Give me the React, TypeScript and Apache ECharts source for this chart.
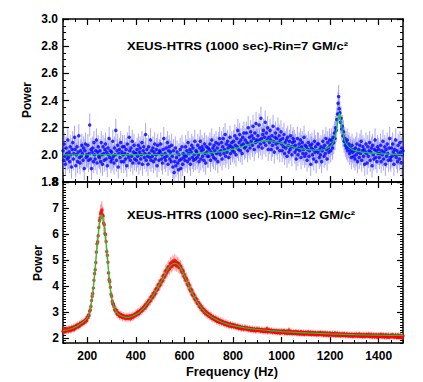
import React, { useEffect, useRef } from 'react';
import * as echarts from 'echarts';

// Frequency bins of the power spectrum (Hz)
const FREQ_START = 100;
const FREQ_STEP = 2.5;

// Top panel: Rin = 7 GM/c^2 (measured power per bin)
const topPower = [
  2.03, 1.96, 2.08, 1.99, 1.93, 2.05, 2.01, 1.97, 2.11, 1.98, 2.02, 1.95, 2.06, 2.0, 1.91, 2.04, 2.09, 1.97, 2.01, 2.13,
  2.04, 1.92, 2.0, 2.06, 1.95, 2.02, 2.14, 1.98, 1.94, 2.03, 1.99, 2.07, 2.01, 1.96, 2.05, 1.9, 2.03, 2.08, 1.98, 2.0,
  1.99, 2.07, 1.96, 2.01, 2.22, 1.97, 2.04, 1.9, 2.02, 2.05, 1.95, 2.09, 2.0, 1.97, 2.03, 2.11, 1.94, 2.02, 2.06, 1.99,
  1.98, 2.03, 1.95, 2.09, 2.0, 1.93, 2.06, 2.01, 1.96, 2.04, 2.08, 1.97, 2.02, 1.92, 2.05, 2.0, 2.12, 1.98, 2.03, 1.95,
  2.02, 1.97, 2.1, 1.99, 1.94, 2.05, 2.0, 2.18, 1.96, 2.03, 2.07, 1.91, 2.01, 2.04, 1.98, 2.09, 1.95, 2.02, 2.06, 2.0,
  1.95, 2.06, 2.01, 1.97, 2.04, 1.92, 2.08, 2.0, 1.98, 2.13, 2.03, 1.96, 2.05, 1.99, 2.1, 1.94, 2.02, 2.07, 1.97, 2.01,
  2.01, 1.96, 2.04, 1.99, 2.07, 1.94, 2.02, 2.05, 1.97, 2.0, 2.09, 1.93, 2.03, 2.06, 1.98, 2.01, 2.15, 1.96, 2.04, 1.99,
  1.93, 2.06, 2.01, 1.98, 2.11, 1.96, 2.03, 1.99, 2.05, 1.95, 2.02, 2.08, 1.97, 2.0, 2.04, 1.92, 2.07, 2.01, 1.96, 2.03,
  2.02, 2.08, 1.97, 2.0, 1.94, 2.04, 2.12, 1.98, 2.01, 1.96, 2.05, 1.99, 2.09, 1.93, 2.03, 2.06, 1.97, 2.02, 1.95, 2.07,
  1.99, 1.91, 2.03, 1.87, 1.95, 2.05, 1.92, 1.98, 2.02, 1.94, 1.89, 2.0, 1.96, 2.04, 1.9, 1.97, 2.06, 1.93, 2.01, 1.98,
  2.0, 1.96, 2.06, 1.99, 2.03, 1.95, 2.09, 2.01, 1.97, 2.04, 1.93, 2.02, 2.07, 1.98, 2.05, 1.96, 2.0, 2.1, 1.97, 2.03,
  2.02, 1.98, 2.07, 2.0, 1.95, 2.05, 2.1, 1.97, 2.03, 2.06, 1.99, 2.04, 1.96, 2.08, 2.01, 1.94, 2.06, 2.02, 1.99, 2.05,
  1.99, 2.04, 2.08, 1.96, 2.02, 2.11, 2.0, 2.05, 1.98, 2.07, 2.03, 1.97, 2.09, 2.01, 2.05, 1.95, 2.08, 2.02, 2.12, 2.0,
  2.03, 2.09, 1.97, 2.06, 2.12, 2.01, 2.04, 2.15, 1.99, 2.08, 2.02, 2.1, 2.05, 1.98, 2.07, 2.13, 2.01, 2.06, 2.09, 2.03,
  2.05, 2.1, 2.02, 2.14, 2.07, 2.0, 2.12, 2.06, 2.18, 2.04, 2.09, 2.15, 2.03, 2.11, 2.07, 2.01, 2.13, 2.08, 2.16, 2.05,
  2.11, 2.06, 2.16, 2.09, 2.03, 2.2, 2.08, 2.13, 2.05, 2.17, 2.1, 2.14, 2.07, 2.21, 2.12, 2.04, 2.16, 2.09, 2.23, 2.11,
  2.1, 2.14, 2.06, 2.22, 2.11, 2.08, 2.27, 2.12, 2.05, 2.15, 2.18, 2.09, 2.13, 2.24, 2.07, 2.16, 2.11, 2.2, 2.04, 2.13,
  2.09, 2.18, 2.11, 2.04, 2.14, 2.07, 2.21, 2.1, 2.02, 2.13, 2.16, 2.08, 2.12, 2.05, 2.19, 2.09, 2.14, 2.03, 2.11, 2.17,
  2.08, 2.03, 2.12, 2.06, 2.15, 2.01, 2.09, 2.05, 2.11, 1.99, 2.13, 2.07, 2.02, 2.1, 2.04, 2.14, 2.06, 2.0, 2.09, 2.12,
  2.06, 2.1, 2.02, 2.07, 1.97, 2.04, 2.12, 2.0, 2.05, 2.08, 2.03, 2.11, 1.98, 2.06, 2.09, 2.01, 2.04, 2.13, 1.99, 2.07,
  2.01, 2.06, 1.96, 2.04, 2.09, 1.99, 2.03, 2.07, 1.93, 2.05, 2.08, 2.0, 2.04, 1.97, 2.1, 2.02, 2.06, 1.95, 2.03, 2.08,
  2.02, 2.08, 1.98, 2.04, 2.0, 2.06, 1.95, 2.03, 2.1, 2.05, 1.99, 2.07, 2.01, 2.12, 2.04, 1.97, 2.09, 2.05, 2.02, 2.11,
  2.07, 2.03, 2.11, 2.08, 2.05, 2.13, 2.09, 2.16, 2.12, 2.2, 2.18, 2.26, 2.3, 2.38, 2.43, 2.34, 2.31, 2.24, 2.27, 2.19,
  2.21, 2.14, 2.17, 2.1, 2.12, 2.07, 2.09, 2.05, 2.11, 2.03, 2.06, 2.08, 2.01, 2.05, 2.03, 1.98, 2.07, 2.02, 2.04, 1.99,
  2.03, 1.97, 2.05, 2.0, 2.08, 1.95, 2.02, 2.04, 1.98, 2.07, 2.01, 2.1, 1.96, 2.03, 2.06, 1.99, 2.04, 1.93, 2.02, 2.08,
  2.01, 1.94, 2.06, 1.99, 2.03, 2.09, 1.96, 2.02, 2.05, 1.92, 2.07, 2.0, 1.97, 2.04, 2.11, 1.98, 2.03, 1.95, 2.06, 2.01,
  2.04, 1.98, 2.01, 2.07, 1.95, 2.03, 2.0, 2.1, 1.97, 2.02, 2.06, 1.93, 2.04, 1.99, 2.08, 2.01, 1.96, 2.05, 2.12, 1.98,
  1.96, 2.05, 1.99, 2.08, 2.02, 1.93, 2.04, 2.0, 2.11, 1.98, 2.03, 1.95, 2.07, 2.01, 1.97, 2.09, 2.02, 1.94, 2.05, 2.0,
  2.03,
];

// Bottom panel: Rin = 12 GM/c^2 (measured power per bin)
const bottomPower = [
  2.25, 2.31, 2.22, 2.33, 2.28, 2.24, 2.36, 2.29, 2.31, 2.26, 2.38, 2.3, 2.34, 2.27, 2.4, 2.33, 2.36, 2.42, 2.31, 2.38,
  2.44, 2.38, 2.47, 2.42, 2.5, 2.45, 2.43, 2.51, 2.56, 2.49, 2.53, 2.59, 2.55, 2.62, 2.57, 2.65, 2.61, 2.68, 2.7, 2.66,
  2.8, 2.77, 2.88, 2.86, 3.03, 3.07, 3.21, 3.44, 3.6, 3.71, 3.92, 4.22, 4.48, 4.62, 4.9, 5.3, 5.62, 5.7, 5.93, 6.25,
  6.52, 6.61, 6.78, 6.85, 6.92, 6.74, 6.7, 6.41, 6.35, 6.02, 5.98, 5.71, 5.32, 5.18, 4.91, 4.5, 4.24, 4.16, 3.95, 3.68,
  3.6, 3.41, 3.31, 3.3, 3.22, 3.09, 3.04, 3.08, 3.05, 2.93, 2.91, 2.96, 2.94, 2.84, 2.82, 2.9, 2.89, 2.8, 2.78, 2.85,
  2.84, 2.76, 2.82, 2.78, 2.74, 2.83, 2.81, 2.75, 2.77, 2.84, 2.79, 2.73, 2.85, 2.8, 2.79, 2.87, 2.81, 2.88, 2.84, 2.91,
  2.93, 2.88, 2.95, 2.99, 2.92, 3.01, 2.96, 3.04, 3.07, 3.02, 3.11, 3.06, 3.16, 3.13, 3.21, 3.15, 3.28, 3.22, 3.25, 3.36,
  3.31, 3.42, 3.45, 3.4, 3.44, 3.56, 3.6, 3.53, 3.58, 3.7, 3.74, 3.66, 3.72, 3.86, 3.91, 3.84, 3.88, 4.03, 4.07, 4.0,
  4.05, 4.19, 4.23, 4.16, 4.21, 4.38, 4.42, 4.33, 4.4, 4.56, 4.61, 4.5, 4.57, 4.72, 4.75, 4.64, 4.7, 4.86, 4.88, 4.76,
  4.79, 4.95, 4.9, 4.83, 4.98, 4.81, 4.93, 4.78, 4.89, 4.86, 4.74, 4.85, 4.7, 4.77, 4.73, 4.59, 4.52, 4.61, 4.55, 4.37,
  4.44, 4.29, 4.22, 4.3, 4.23, 4.07, 4.01, 4.09, 4.02, 3.86, 3.8, 3.88, 3.82, 3.67, 3.62, 3.7, 3.64, 3.5, 3.46, 3.52,
  3.47, 3.35, 3.31, 3.36, 3.33, 3.21, 3.17, 3.23, 3.19, 3.08, 3.05, 3.12, 3.08, 2.98, 2.95, 3.02, 2.99, 2.9, 2.88, 2.94,
  2.92, 2.83, 2.81, 2.87, 2.85, 2.76, 2.74, 2.8, 2.79, 2.71, 2.7, 2.76, 2.74, 2.65, 2.64, 2.71, 2.69, 2.61, 2.6, 2.67,
  2.65, 2.57, 2.58, 2.63, 2.61, 2.54, 2.52, 2.59, 2.58, 2.5, 2.49, 2.55, 2.55, 2.47, 2.46, 2.53, 2.52, 2.44, 2.45, 2.5,
  2.5, 2.43, 2.44, 2.48, 2.46, 2.4, 2.41, 2.46, 2.44, 2.38, 2.37, 2.43, 2.42, 2.36, 2.35, 2.41, 2.4, 2.34, 2.35, 2.39,
  2.41, 2.35, 2.34, 2.39, 2.37, 2.31, 2.32, 2.37, 2.36, 2.3, 2.29, 2.35, 2.35, 2.29, 2.28, 2.34, 2.33, 2.27, 2.28, 2.33,
  2.34, 2.28, 2.29, 2.33, 2.32, 2.26, 2.27, 2.31, 2.32, 2.25, 2.25, 2.3, 2.3, 2.24, 2.25, 2.29, 2.36, 2.23, 2.24, 2.28,
  2.3, 2.24, 2.23, 2.29, 2.28, 2.22, 2.23, 2.27, 2.27, 2.21, 2.21, 2.26, 2.27, 2.2, 2.21, 2.25, 2.26, 2.19, 2.2, 2.25,
  2.26, 2.2, 2.21, 2.25, 2.27, 2.19, 2.2, 2.24, 2.25, 2.18, 2.19, 2.23, 2.3, 2.18, 2.19, 2.23, 2.24, 2.17, 2.18, 2.22,
  2.23, 2.17, 2.18, 2.22, 2.24, 2.16, 2.17, 2.21, 2.22, 2.15, 2.16, 2.2, 2.23, 2.15, 2.16, 2.2, 2.21, 2.14, 2.15, 2.19,
  2.21, 2.16, 2.15, 2.2, 2.22, 2.14, 2.15, 2.19, 2.21, 2.13, 2.14, 2.18, 2.2, 2.13, 2.14, 2.18, 2.19, 2.12, 2.13, 2.17,
  2.19, 2.12, 2.14, 2.18, 2.2, 2.13, 2.13, 2.17, 2.19, 2.11, 2.12, 2.16, 2.19, 2.11, 2.12, 2.16, 2.18, 2.1, 2.11, 2.15,
  2.18, 2.12, 2.11, 2.16, 2.17, 2.1, 2.11, 2.15, 2.18, 2.09, 2.1, 2.15, 2.17, 2.09, 2.1, 2.14, 2.16, 2.08, 2.09, 2.14,
  2.15, 2.1, 2.09, 2.16, 2.14, 2.08, 2.09, 2.13, 2.15, 2.08, 2.08, 2.12, 2.14, 2.07, 2.08, 2.12, 2.14, 2.06, 2.07, 2.12,
  2.13, 2.08, 2.07, 2.14, 2.12, 2.07, 2.07, 2.12, 2.15, 2.06, 2.07, 2.11, 2.13, 2.05, 2.06, 2.11, 2.13, 2.05, 2.06, 2.1,
  2.13, 2.08, 2.06, 2.12, 2.14, 2.05, 2.06, 2.11, 2.13, 2.04, 2.05, 2.1, 2.12, 2.04, 2.05, 2.1, 2.12, 2.03, 2.04, 2.09,
  2.12, 2.07, 2.05, 2.11, 2.13, 2.04, 2.05, 2.1, 2.12, 2.03, 2.04, 2.09, 2.12, 2.03, 2.04, 2.09, 2.11, 2.02, 2.03, 2.08,
  2.11, 2.06, 2.04, 2.12, 2.09, 2.03, 2.04, 2.09, 2.11, 2.02, 2.03, 2.08, 2.11, 2.02, 2.03, 2.08, 2.1, 2.01, 2.02, 2.07,
  2.08,
];

// Error bar sizes
const topErr = 0.085;
const bottomErrFrac = 0.05;

// Best-fit model curves (green)
const topModelFreq = [
  100, 300, 500, 600, 650, 700, 750, 800, 850, 880, 910, 940, 970, 1000, 1030, 1060,
  1090, 1120, 1150, 1170, 1190, 1205, 1215, 1225, 1232, 1238, 1244, 1251, 1261, 1271,
  1286, 1300, 1330, 1370, 1420, 1500,
];
const topModelPower = [
  2.0, 2.001, 2.003, 2.006, 2.009, 2.014, 2.024, 2.042, 2.068, 2.085, 2.098, 2.105, 2.1,
  2.085, 2.068, 2.052, 2.042, 2.036, 2.034, 2.037, 2.05, 2.07, 2.1, 2.17, 2.25, 2.305,
  2.25, 2.17, 2.1, 2.07, 2.045, 2.033, 2.02, 2.012, 2.007, 2.003,
];
const bottomModelFreq = [
  100, 110, 120, 130, 140, 150, 160, 170, 180, 190, 200, 210, 220, 230, 240, 250, 255,
  260, 265, 270, 280, 290, 300, 310, 320, 330, 340, 350, 360, 370, 380, 390, 400, 410,
  420, 430, 440, 450, 460, 470, 480, 490, 500, 510, 520, 530, 540, 550, 560, 570, 580,
  590, 600, 610, 620, 630, 640, 650, 660, 670, 680, 690, 700, 720, 740, 760, 780, 800,
  850, 900, 950, 1000, 1100, 1200, 1300, 1400, 1500,
];
const bottomModelPower = [
  2.27, 2.29, 2.31, 2.34, 2.37, 2.41, 2.46, 2.52, 2.59, 2.66, 2.76, 2.98, 3.55, 4.4, 5.5,
  6.4, 6.62, 6.74, 6.58, 6.3, 5.4, 4.3, 3.55, 3.18, 3.0, 2.9, 2.85, 2.81, 2.79, 2.79,
  2.81, 2.85, 2.9, 2.95, 3.03, 3.12, 3.23, 3.35, 3.48, 3.62, 3.77, 3.93, 4.1, 4.27, 4.45,
  4.62, 4.75, 4.84, 4.87, 4.84, 4.75, 4.58, 4.38, 4.17, 3.96, 3.76, 3.58, 3.42, 3.28,
  3.15, 3.04, 2.95, 2.88, 2.76, 2.66, 2.58, 2.52, 2.47, 2.38, 2.32, 2.28, 2.24, 2.19,
  2.15, 2.12, 2.1, 2.09,
];

// Axis ticks and labels
const xMajorTicks = [200, 400, 600, 800, 1000, 1200, 1400];
const bottomYMajorTicks = [2, 3, 4, 5, 6, 7, 8];
const topTitle = 'XEUS-HTRS (1000 sec)-Rin=7 GM/c²';
const bottomTitle = 'XEUS-HTRS (1000 sec)-Rin=12 GM/c²';
const yName = 'Power';
const xName = 'Frequency (Hz)';

const FONT = '"Liberation Sans", Arial, sans-serif';

function buildOption() {
  const topPts = topPower.map((v, i) => [FREQ_START + i * FREQ_STEP, v, topErr]);
  const botPts = bottomPower.map((v, i) => [FREQ_START + i * FREQ_STEP, v, v * bottomErrFrac]);
  const topModel = topModelFreq.map((f, i) => [f, topModelPower[i]]);
  const botModel = bottomModelFreq.map((f, i) => [f, bottomModelPower[i]]);

  const grids = [
    { left: 63, top: 19, width: 340, height: 163 },
    { left: 63, top: 182, width: 340, height: 161 },
  ];

  const line = { show: true, lineStyle: { color: '#000', width: 1.5 } };
  const noLine = { show: false };
  const label = { color: '#000', fontSize: 12, fontWeight: 'bold', fontFamily: FONT };

  const xBase = (gridIndex: number, position: string) => ({
    type: 'value',
    gridIndex,
    position,
    min: 100,
    max: 1500,
    splitLine: { show: false },
  });

  const xAxes: any[] = [];
  [0, 1].forEach((g) => {
    ['bottom', 'top'].forEach((pos) => {
      xAxes.push({
        ...xBase(g, pos),
        interval: 50,
        axisLine: line,
        axisTick: { inside: true, length: 3, lineStyle: { color: '#000', width: 1 } },
        axisLabel: { show: false },
      });
      xAxes.push({
        ...xBase(g, pos),
        axisLine: noLine,
        axisTick: { inside: true, length: 6, customValues: xMajorTicks, lineStyle: { color: '#000', width: 1.2 } },
        axisLabel:
          g === 1 && pos === 'bottom'
            ? { ...label, margin: 7, customValues: xMajorTicks, formatter: (v: number) => String(v) }
            : { show: false },
      });
    });
  });
  // xAxis indices: grid0 -> 0..3, grid1 -> 4..7

  const yAxes: any[] = [];
  ['left', 'right'].forEach((pos) => {
    yAxes.push({
      type: 'value',
      gridIndex: 0,
      position: pos,
      min: 1.8,
      max: 3.0,
      interval: 0.2,
      splitLine: { show: false },
      axisLine: line,
      axisTick: { inside: true, length: 6, lineStyle: { color: '#000', width: 1.2 } },
      minorTick: { show: true, splitNumber: 4, length: 3, lineStyle: { color: '#000', width: 1 } },
      axisLabel:
        pos === 'left'
          ? { ...label, margin: 5, showMinLabel: true, showMaxLabel: true, formatter: (v: number) => v.toFixed(1) }
          : { show: false },
    });
  });
  ['left', 'right'].forEach((pos) => {
    yAxes.push({
      type: 'value',
      gridIndex: 1,
      position: pos,
      min: 1.8,
      max: 8,
      interval: 0.1,
      splitLine: { show: false },
      axisLine: line,
      axisTick: { inside: true, length: 3, lineStyle: { color: '#000', width: 1 } },
      axisLabel: { show: false },
    });
    yAxes.push({
      type: 'value',
      gridIndex: 1,
      position: pos,
      min: 1.8,
      max: 8,
      splitLine: { show: false },
      axisLine: noLine,
      axisTick: { inside: true, length: 6, customValues: bottomYMajorTicks, lineStyle: { color: '#000', width: 1.2 } },
      axisLabel: pos === 'left' ? { ...label, margin: 4, customValues: bottomYMajorTicks } : { show: false },
    });
  });
  // yAxis indices: grid0 -> 0,1 ; grid1 -> 2..5

  const errBar = (color: string) => (params: any, api: any) => {
    const x = api.value(0);
    const y = api.value(1);
    const e = api.value(2);
    const p1 = api.coord([x, y - e]);
    const p2 = api.coord([x, y + e]);
    return {
      type: 'line',
      shape: { x1: p1[0], y1: p1[1], x2: p2[0], y2: p2[1] },
      style: { stroke: color, lineWidth: 1 },
    };
  };

  const textStyle = (text: string, align: string) => ({
    text,
    fontSize: 12,
    fontWeight: 'bold',
    fontFamily: FONT,
    fill: '#000',
    align,
    verticalAlign: 'middle',
  });

  return {
    animation: false,
    backgroundColor: '#fff',
    grid: grids,
    xAxis: xAxes,
    yAxis: yAxes,
    series: [
      {
        type: 'custom',
        xAxisIndex: 0,
        yAxisIndex: 0,
        clip: true,
        renderItem: errBar('rgba(110,110,255,0.6)'),
        data: topPts,
        encode: { x: 0, y: 1 },
        z: 1,
      },
      {
        type: 'scatter',
        xAxisIndex: 0,
        yAxisIndex: 0,
        symbol: 'circle',
        symbolSize: 3.5,
        itemStyle: { color: '#0000ff' },
        data: topPts.map((p) => [p[0], p[1]]),
        clip: true,
        z: 2,
      },
      {
        type: 'line',
        xAxisIndex: 0,
        yAxisIndex: 0,
        showSymbol: false,
        smooth: 0.3,
        lineStyle: { color: '#10cc30', width: 1.2 },
        data: topModel,
        z: 3,
      },
      {
        type: 'custom',
        xAxisIndex: 4,
        yAxisIndex: 2,
        clip: true,
        renderItem: errBar('rgba(255,110,110,0.6)'),
        data: botPts,
        encode: { x: 0, y: 1 },
        z: 1,
      },
      {
        type: 'scatter',
        xAxisIndex: 4,
        yAxisIndex: 2,
        symbol: 'circle',
        symbolSize: 3.5,
        itemStyle: { color: '#ff0000' },
        data: botPts.map((p) => [p[0], p[1]]),
        clip: true,
        z: 2,
      },
      {
        type: 'line',
        xAxisIndex: 4,
        yAxisIndex: 2,
        showSymbol: false,
        smooth: 0.3,
        lineStyle: { color: '#10cc30', width: 1.2 },
        data: botModel,
        z: 3,
      },
    ],
    graphic: [
      { type: 'text', x: 127, y: 46, scaleX: 1.12, style: { ...textStyle(topTitle, 'left'), fontSize: 11.6 } },
      { type: 'text', x: 127, y: 215, scaleX: 1.12, style: { ...textStyle(bottomTitle, 'left'), fontSize: 11.6 } },
      { type: 'text', x: 27, y: 100, rotation: Math.PI / 2, style: textStyle(yName, 'center') },
      { type: 'text', x: 38, y: 263, rotation: Math.PI / 2, style: textStyle(yName, 'center') },
      { type: 'text', x: 232, y: 372, scaleX: 1.06, style: textStyle(xName, 'center') },
    ],
  };
}

export default function App() {
  const ref = useRef<HTMLDivElement>(null);
  useEffect(() => {
    if (!ref.current) return;
    const chart = echarts.init(ref.current, undefined, { renderer: 'svg' });
    chart.setOption(buildOption() as any);
    return () => chart.dispose();
  }, []);
  return (
    <div
      ref={ref}
      style={{ position: 'fixed', left: 0, top: 0, width: 423, height: 382, background: '#fff' }}
    />
  );
}
